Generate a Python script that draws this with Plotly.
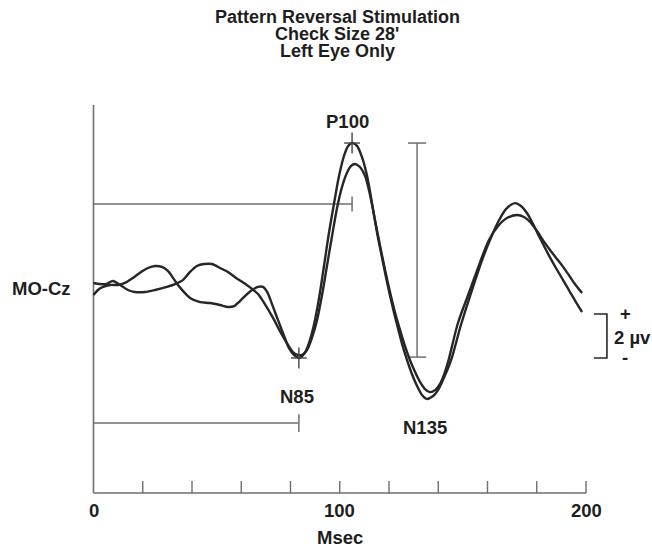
import plotly.graph_objects as go

# waveform 1 (taller P100), time in msec / amplitude in microvolts
time_a = [0, 1.8, 3.9, 6.7, 9.9, 12.8, 16.0, 19.3, 22.1, 25.0, 27.8, 30.3, 32.3, 34.3, 36.4, 39.2,
          43.3, 47.3, 51.4, 54.6, 57.1, 59.5, 61.9, 64.4, 66.8, 68.8, 70.5, 72.5, 74.9, 77.4, 79.4,
          81.4, 83.5, 85.5, 87.5, 89.5, 91.6, 93.6, 95.6, 97.7, 99.7, 101.7, 103.4, 105.0, 107.0,
          109.0, 111.1, 113.1, 115.1, 117.2, 119.2, 121.2, 123.3, 125.3, 127.3, 129.3, 131.4, 133.4,
          135.4, 137.9, 139.9, 141.9, 144.0, 145.6, 149.2, 153.7, 157.8, 161.0, 164.3, 167.5, 171.2,
          173.6, 176.0, 178.5, 181.3, 184.6, 187.8, 190.7, 193.5, 195.9, 198.4]
volt_a = [-0.23, 0.0, 0.14, 0.23, 0.23, 0.32, 0.55, 0.82, 1.0, 1.09, 1.05, 0.86, 0.55, 0.23, -0.05,
          -0.36, -0.55, -0.59, -0.68, -0.77, -0.73, -0.5, -0.23, 0.0, 0.14, 0.14, -0.09, -0.64, -1.36,
          -2.09, -2.64, -2.95, -3.09, -2.91, -2.41, -1.59, -0.36, 1.09, 2.59, 3.95, 5.18, 6.09, 6.55,
          6.68, 6.55, 6.05, 5.18, 3.95, 2.64, 1.45, 0.36, -0.64, -1.59, -2.45, -3.18, -3.82, -4.36,
          -4.77, -4.95, -4.82, -4.55, -4.09, -3.55, -3.05, -1.59, 0.0, 1.36, 2.27, 3.09, 3.68, 3.95,
          3.82, 3.5, 3.0, 2.36, 1.64, 1.0, 0.45, -0.09, -0.55, -1.0]

# waveform 2
time_b = [0, 2.6, 5.1, 7.9, 10.8, 14.0, 16.8, 20.9, 25.0, 29.8, 33.1, 36.3, 39.2, 42.0, 44.9, 48.1,
          51.4, 54.6, 57.9, 61.1, 64.4, 66.8, 69.6, 72.9, 76.1, 79.0, 81.0, 83.0, 84.7, 86.7, 88.7,
          90.8, 92.8, 94.8, 96.8, 98.9, 100.9, 102.9, 104.6, 106.2, 108.2, 110.3, 112.3, 114.3, 116.3,
          118.4, 120.4, 122.4, 124.5, 126.5, 128.5, 130.6, 132.6, 134.6, 136.6, 138.7, 140.7, 142.3,
          144.0, 148.0, 152.9, 157.0, 160.6, 164.3, 167.9, 172.0, 174.8, 177.3, 180.1, 182.5, 185.4,
          188.2, 190.7, 192.7, 195.5, 198.4]
volt_b = [0.32, 0.27, 0.27, 0.41, 0.23, 0.0, -0.09, -0.09, 0.0, 0.14, 0.27, 0.45, 0.82, 1.09, 1.18,
          1.18, 1.0, 0.82, 0.55, 0.32, 0.05, -0.18, -0.64, -1.27, -1.95, -2.5, -2.82, -2.95, -2.95,
          -2.73, -2.18, -1.36, -0.23, 1.09, 2.41, 3.73, 4.68, 5.32, 5.64, 5.73, 5.59, 5.18, 4.32, 3.18,
          2.05, 0.91, -0.09, -1.0, -1.82, -2.55, -3.18, -3.73, -4.18, -4.5, -4.64, -4.55, -4.27, -3.86,
          -3.27, -1.5, 0.0, 1.27, 2.27, 2.91, 3.27, 3.41, 3.32, 3.09, 2.68, 2.27, 1.82, 1.41, 1.05,
          0.73, 0.27, -0.14]

tick_ms = [20, 40, 60, 80, 100, 120, 140, 160, 180, 200]
label_ms = [0, 100, 200]
label_txt = ["0", "100", "200"]

# marked peaks
n85_lat, n85_amp = 83.4, -3.09
p100_lat, p100_amp = 105.0, 6.68
n135_lat, n135_amp = 135.4, -4.95
amp_bar_ms = 131.4
scale_uv = 2

INK = "#262626"
GREY = "#6e6e6e"
FONT = "Liberation Sans, Arial, sans-serif"

# layout geometry (microvolt units on y)
AX_Y = -9.23
AX_TOP = 8.41
TICK_H = 0.55

fig = go.Figure()

# axes
fig.add_trace(go.Scatter(x=[0, 200], y=[AX_Y, AX_Y], mode="lines", line=dict(color=GREY, width=1.6)))
fig.add_trace(go.Scatter(x=[0, 0], y=[AX_Y, AX_TOP], mode="lines", line=dict(color=GREY, width=1.6)))
tx, ty = [], []
for t in tick_ms:
    tx += [t, t, None]
    ty += [AX_Y, AX_Y + TICK_H, None]
fig.add_trace(go.Scatter(x=tx, y=ty, mode="lines", line=dict(color=GREY, width=1.4)))

# latency bars
lat1_y, lat2_y = 3.91, -6.05
fig.add_trace(go.Scatter(x=[0, p100_lat, None, p100_lat, p100_lat],
                         y=[lat1_y, lat1_y, None, lat1_y - 0.34, lat1_y + 0.34],
                         mode="lines", line=dict(color=GREY, width=1.5)))
fig.add_trace(go.Scatter(x=[0, n85_lat, None, n85_lat, n85_lat],
                         y=[lat2_y, lat2_y, None, lat2_y - 0.4, lat2_y + 0.4],
                         mode="lines", line=dict(color=GREY, width=1.5)))

# peak to peak amplitude bar
fig.add_trace(go.Scatter(x=[amp_bar_ms, amp_bar_ms, None, amp_bar_ms - 3.7, amp_bar_ms + 3.7, None,
                            amp_bar_ms - 3.7, amp_bar_ms + 3.7],
                         y=[p100_amp, -3.05, None, p100_amp, p100_amp, None, -3.05, -3.05],
                         mode="lines", line=dict(color=GREY, width=1.5)))

# waveforms
for tt, vv in [(time_a, volt_a), (time_b, volt_b)]:
    fig.add_trace(go.Scatter(x=tt, y=vv, mode="lines",
                             line=dict(color=INK, width=2.4, shape="spline", smoothing=0.8)))

# cursor crosses on the peaks
cx, cy = [], []
for lat, amp in [(n85_lat, n85_amp), (p100_lat, p100_amp)]:
    cx += [lat, lat, None, lat - 3.2, lat + 3.2, None]
    cy += [amp - 0.48, amp + 0.48, None, amp, amp, None]
fig.add_trace(go.Scatter(x=cx, y=cy, mode="lines", line=dict(color="#444444", width=1.4)))

# calibration bracket
sb_x = 208.5
sb_top = -1.09
fig.add_trace(go.Scatter(x=[sb_x - 5.3, sb_x, sb_x, sb_x - 5.3],
                         y=[sb_top, sb_top, sb_top - scale_uv, sb_top - scale_uv],
                         mode="lines", line=dict(color=INK, width=1.6)))

W, H = 652, 548

ann = []
def txt(x, y, s, size=18.5, xanchor="center", xref="x", yref="y"):
    ann.append(dict(x=x, y=y, text=s, showarrow=False, xref=xref, yref=yref,
                    xanchor=xanchor, yanchor="middle",
                    font=dict(family=FONT, size=size, color="#1e1e1e", weight="bold")))

for m, s in zip(label_ms, label_txt):
    txt(m, -10.0, s)
txt(100, -11.27, "Msec")
txt(p100_lat - 2.0, 7.68, "P100")
txt(n85_lat - 0.8, -4.86, "N85")
txt(n135_lat - 0.8, -6.23, "N135")
txt(-21.0, 0.09, "MO-Cz")
txt(215.9, -1.05, "+")
txt(210.6, -2.14, "2 µv", xanchor="left")
txt(215.9, -3.09, "-")

title_lines = ["Pattern Reversal Stimulation", "Check Size 28'", "Left Eye Only"]
for i, s in enumerate(title_lines):
    txt(337 / W, 1 - (17 + 17 * i) / H, s, size=18, xref="paper", yref="paper")

fig.update_layout(
    width=W, height=H,
    margin=dict(l=0, r=0, t=0, b=0),
    paper_bgcolor="white", plot_bgcolor="white",
    showlegend=False,
    xaxis=dict(visible=False, range=[-37.97, 226.80]),
    yaxis=dict(visible=False, range=[-11.727, 13.182]),
    annotations=ann,
)

# drop the default page margin so the 652x548 figure fills the window exactly
fig.write_html("out.html", config={"displayModeBar": False},
               post_script="document.body.style.margin='0';document.body.style.overflow='hidden';")
